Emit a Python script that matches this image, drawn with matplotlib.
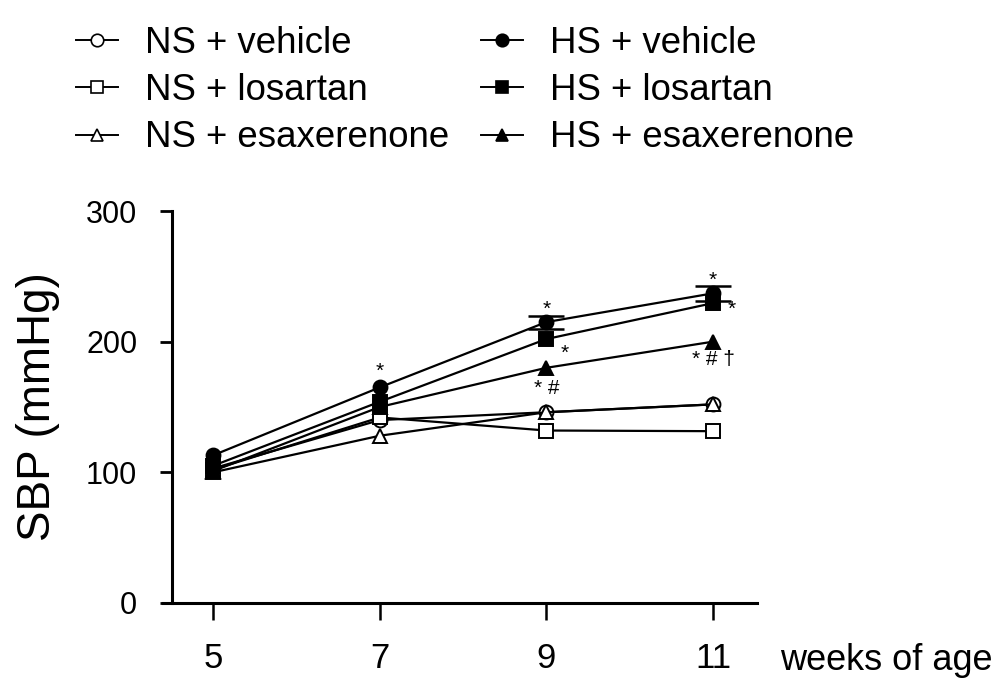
import numpy as np
import matplotlib.pyplot as plt

plt.rcParams['font.family'] = ['Liberation Sans', 'DejaVu Sans']

weeks = [5, 7, 9, 11]

ns_vehicle = [103, 140, 146, 152]
ns_losartan = [102, 142, 132, 131.5]
ns_esax = [100, 128, 146, 152]
hs_vehicle = [113, 165, 215, 237]
# SEM only shows above the markers at 9 and 11 weeks
hs_vehicle_err = [np.nan, np.nan, 5, 5.5]
hs_losartan = [105, 154, 202, 229.5]
hs_esax = [101, 150, 180, 200]

labels = ['NS + vehicle', 'NS + losartan', 'NS + esaxerenone',
          'HS + vehicle', 'HS + losartan', 'HS + esaxerenone']

# significance marks: (week, SBP, text)
marks = [
    (7, 177, '*'),
    (9, 225, '*'),
    (9.22, 191, '*'),
    (9, 164, '* #'),
    (11, 247, '*'),
    (11.23, 225, '*'),
    (11, 186, '* # †'),
]

fig = plt.figure(figsize=(10.06, 6.86), dpi=100)
ax = fig.add_axes([0.171, 0.121, 0.5815, 0.5714])

series = [
    (ns_vehicle, 'o', 'white'),
    (ns_losartan, 's', 'white'),
    (ns_esax, '^', 'white'),
    (hs_vehicle, 'o', 'black'),
    (hs_losartan, 's', 'black'),
    (hs_esax, '^', 'black'),
]

handles = []
for vals, mk, fc in series:
    z = 3 if fc == 'white' else 4
    if vals is hs_vehicle:
        ax.errorbar(weeks, vals, yerr=hs_vehicle_err, fmt='none', ecolor='black',
                    elinewidth=1.5, capsize=13, capthick=1.8, zorder=z)
    ax.plot(weeks, vals, color='black', lw=1.6, marker=mk, ms=10,
            mfc=fc, mec='black', mew=1.4, zorder=z)
    h, = ax.plot([], [], color='black', lw=1.4, marker=mk, ms=9,
                 mfc=fc, mec='black', mew=1.2)
    handles.append(h)

for x, y, t in marks:
    ax.text(x, y, t, ha='center', va='center', fontsize=15)

ax.set_xlim(4.508, 11.528)
ax.set_ylim(0, 300)
ax.set_xticks(weeks)
ax.set_yticks([0, 100, 200, 300])
for s in ['top', 'right']:
    ax.spines[s].set_visible(False)
for s in ['left', 'bottom']:
    ax.spines[s].set_linewidth(2.2)
ax.spines['bottom'].set_bounds(4.40, 11.528)
ax.tick_params(axis='y', length=9, width=2, labelsize=22, pad=16)
ax.tick_params(axis='x', length=12, width=1.8, labelsize=25, pad=16)
ax.set_ylabel('SBP (mmHg)', fontsize=33)
ax.yaxis.set_label_coords(-0.192, 0.5)
ax.text(11.81, -51.3, 'weeks of age', fontsize=26, ha='left', va='baseline',
        clip_on=False)

fig.legend(handles, labels, ncol=2, loc='upper left', bbox_to_anchor=(0.043, 1.01),
           frameon=False, fontsize=26.4, handlelength=1.145, handletextpad=0.735,
           labelspacing=0.33, columnspacing=0.85)

fig.savefig('out.png', dpi=100)
